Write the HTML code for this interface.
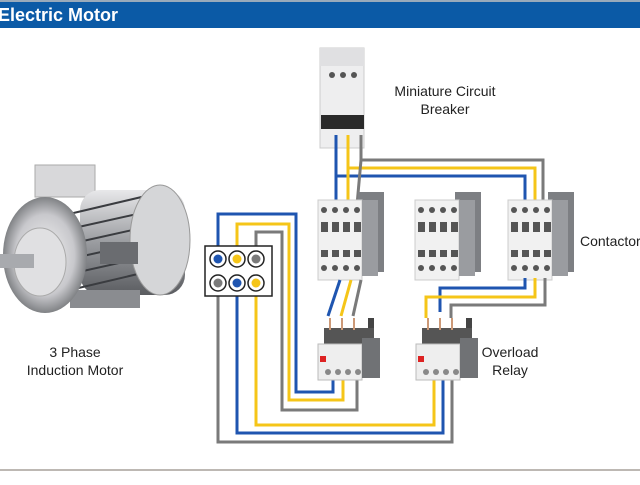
<!DOCTYPE html>
<html><head><meta charset="utf-8"><style>
body{margin:0;width:640px;height:480px;overflow:hidden;background:#fff;font-family:"Liberation Sans",sans-serif}
</style></head><body>
<svg width="640" height="480" viewBox="0 0 640 480" xmlns="http://www.w3.org/2000/svg">
<defs>
<linearGradient id="mg" x1="0" y1="0" x2="0" y2="1"><stop offset="0" stop-color="#e8e8ea"/><stop offset="0.5" stop-color="#9a9ca0"/><stop offset="1" stop-color="#5a5c60"/></linearGradient>
<radialGradient id="fg" cx="0.5" cy="0.5" r="0.5"><stop offset="0" stop-color="#f4f4f4"/><stop offset="0.7" stop-color="#c8c8cc"/><stop offset="1" stop-color="#808285"/></radialGradient>
<g id="cont">
<rect x="40" y="2" width="26" height="80" fill="#7d7f83"/>
<rect x="0" y="10" width="44" height="80" fill="#f1f1f1" stroke="#ccc"/>
<rect x="44" y="10" width="16" height="76" fill="#9a9ca0"/>
<g fill="#555"><circle cx="6" cy="20" r="3"/><circle cx="17" cy="20" r="3"/><circle cx="28" cy="20" r="3"/><circle cx="39" cy="20" r="3"/>
<rect x="3" y="32" width="7" height="10"/><rect x="14" y="32" width="7" height="10"/><rect x="25" y="32" width="7" height="10"/><rect x="36" y="32" width="7" height="10"/>
<rect x="3" y="60" width="7" height="7"/><rect x="14" y="60" width="7" height="7"/><rect x="25" y="60" width="7" height="7"/><rect x="36" y="60" width="7" height="7"/>
<circle cx="6" cy="78" r="3"/><circle cx="17" cy="78" r="3"/><circle cx="28" cy="78" r="3"/><circle cx="39" cy="78" r="3"/></g>
</g>
<g id="relay">
<rect x="52" y="0" width="6" height="20" fill="#444"/>
<rect x="8" y="10" width="50" height="20" fill="#555"/>
<rect x="2" y="26" width="44" height="36" fill="#eee" stroke="#bbb"/>
<rect x="46" y="20" width="18" height="40" fill="#707275"/>
<rect x="4" y="38" width="6" height="6" fill="#d22"/>
<g fill="#888"><circle cx="12" cy="54" r="3"/><circle cx="22" cy="54" r="3"/><circle cx="32" cy="54" r="3"/><circle cx="42" cy="54" r="3"/></g>
<g stroke="#c97" stroke-width="2"><line x1="14" y1="0" x2="14" y2="12"/><line x1="26" y1="0" x2="26" y2="12"/><line x1="38" y1="0" x2="38" y2="12"/></g>
</g>
</defs>
<rect x="0" y="0" width="640" height="28" fill="#0b5aa6"/>
<rect x="0" y="0" width="640" height="2" fill="#9ab"/>
<text x="-2" y="21" font-size="18" font-weight="bold" fill="#fff">Electric Motor</text>
<line x1="0" y1="470" x2="640" y2="470" stroke="#bdb8b3" stroke-width="2"/>

<!-- motor -->
<rect x="35" y="165" width="60" height="32" fill="#d8d8da" stroke="#aaa"/>
<rect x="80" y="190" width="105" height="105" rx="20" fill="url(#mg)"/>
<g stroke="#3a3c40" stroke-width="2">
<line x1="65" y1="215" x2="150" y2="195"/><line x1="65" y1="230" x2="155" y2="210"/><line x1="65" y1="245" x2="155" y2="225"/><line x1="65" y1="260" x2="155" y2="240"/><line x1="65" y1="275" x2="155" y2="255"/><line x1="70" y1="290" x2="155" y2="270"/></g>
<ellipse cx="160" cy="240" rx="30" ry="55" fill="#d5d6d8" stroke="#999"/>
<rect x="100" y="242" width="38" height="22" fill="#6a6c70"/>
<rect x="70" y="290" width="70" height="18" fill="#8a8c90"/>
<ellipse cx="45" cy="255" rx="42" ry="58" fill="url(#fg)"/>
<ellipse cx="40" cy="262" rx="26" ry="34" fill="#e0e0e2" stroke="#aaa"/>
<rect x="0" y="254" width="34" height="14" fill="#a8aaae"/>
<text x="75" y="357" font-size="14" text-anchor="middle" fill="#222">3 Phase</text>
<text x="75" y="375" font-size="14" text-anchor="middle" fill="#222">Induction Motor</text>

<!-- MCB -->
<rect x="320" y="48" width="44" height="100" fill="#eeeeef" stroke="#ccc"/>
<rect x="320" y="48" width="44" height="18" fill="#e0e0e2"/>
<g fill="#555"><circle cx="332" cy="75" r="3"/><circle cx="343" cy="75" r="3"/><circle cx="354" cy="75" r="3"/></g>
<rect x="321" y="115" width="43" height="14" fill="#2a2a2a"/>
<text x="445" y="96" font-size="14" text-anchor="middle" fill="#222">Miniature Circuit</text>
<text x="445" y="114" font-size="14" text-anchor="middle" fill="#222">Breaker</text>

<!-- wires top -->
<g fill="none" stroke-width="3">
<polyline points="361,135 361,160 543,160 543,205" stroke="#7a7a7a"/>
<polyline points="348,135 348,168 535,168 535,210" stroke="#f5c518"/>
<polyline points="336,135 336,176 525,176 525,205" stroke="#1f55b0"/>
<line x1="336" y1="176" x2="336" y2="210" stroke="#1f55b0"/>
<line x1="348" y1="168" x2="348" y2="215" stroke="#f5c518"/>
<line x1="361" y1="160" x2="357" y2="205" stroke="#7a7a7a"/>
</g>
<use href="#cont" x="318" y="190"/>
<use href="#cont" x="415" y="190"/>
<use href="#cont" x="508" y="190"/>
<text x="580" y="246" font-size="14" fill="#222">Contactor</text>

<g fill="none" stroke-width="3">
<polyline points="525,278 525,288 440,288 440,312" stroke="#1f55b0"/>
<polyline points="535,278 535,297 426,297 426,318" stroke="#f5c518"/>
<polyline points="545,278 545,305 451,305 451,318" stroke="#7a7a7a"/>
<line x1="340" y1="280" x2="328" y2="316" stroke="#1f55b0"/>
<line x1="351" y1="280" x2="341" y2="316" stroke="#f5c518"/>
<line x1="361" y1="280" x2="353" y2="316" stroke="#7a7a7a"/>
<polyline points="333,380 333,392 296,392 296,214 218,214 218,258" stroke="#1f55b0"/>
<polyline points="343,380 343,400 289,400 289,224 237,224 237,258" stroke="#f5c518"/>
<polyline points="357,380 357,410 282,410 282,232 256,232 256,258" stroke="#7a7a7a"/>
<polyline points="434,380 434,425 256,425 256,285" stroke="#f5c518"/>
<polyline points="443,380 443,433 237,433 237,285" stroke="#1f55b0"/>
<polyline points="452,380 452,442 218,442 218,285" stroke="#7a7a7a"/>
</g>
<use href="#relay" x="316" y="318"/>
<use href="#relay" x="414" y="318"/>
<text x="510" y="357" font-size="14" text-anchor="middle" fill="#222">Overload</text>
<text x="510" y="375" font-size="14" text-anchor="middle" fill="#222">Relay</text>

<!-- terminal box -->
<rect x="205" y="246" width="67" height="50" fill="#fff" stroke="#222" stroke-width="1.5"/>
<g stroke="#222" stroke-width="1.5" fill="#fff">
<circle cx="218" cy="259" r="8"/><circle cx="237" cy="259" r="8"/><circle cx="256" cy="259" r="8"/>
<circle cx="218" cy="283" r="8"/><circle cx="237" cy="283" r="8"/><circle cx="256" cy="283" r="8"/></g>
<circle cx="218" cy="259" r="4.5" fill="#1f55b0"/><circle cx="237" cy="259" r="4.5" fill="#f5c518"/><circle cx="256" cy="259" r="4.5" fill="#7a7a7a"/>
<circle cx="218" cy="283" r="4.5" fill="#7a7a7a"/><circle cx="237" cy="283" r="4.5" fill="#1f55b0"/><circle cx="256" cy="283" r="4.5" fill="#f5c518"/>
</svg>
</body></html>
